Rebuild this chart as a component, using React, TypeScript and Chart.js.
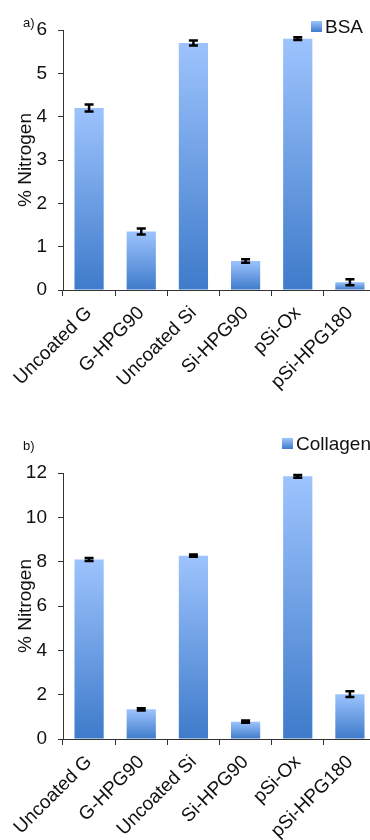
import React, { useEffect, useRef } from "react";
import { Chart, registerables } from "chart.js";

Chart.register(...registerables);

const categories = ["Uncoated G", "G-HPG90", "Uncoated Si", "Si-HPG90", "pSi-Ox", "pSi-HPG180"];
const bsaValues = [4.2, 1.35, 5.7, 0.67, 5.8, 0.18];
const bsaErrors = [0.08, 0.07, 0.06, 0.04, 0.03, 0.07];
const collagenValues = [8.1, 1.34, 8.27, 0.78, 11.85, 2.02];
const collagenErrors = [0.07, 0.05, 0.05, 0.05, 0.06, 0.13];
const yTitle = "% Nitrogen";

const FONT = "'Liberation Sans', Arial, Helvetica, sans-serif";
const LIGHT = "#9DC3FD";
const DARK = "#3E7BCA";

const errorBarPlugin = {
  id: "errorBars",
  afterDatasetsDraw(chart: any, _args: any, opts: any) {
    const errs: number[] = opts.errors || [];
    const meta = chart.getDatasetMeta(0);
    const ys = chart.scales.y;
    const ctx = chart.ctx;
    ctx.save();
    ctx.strokeStyle = "#000";
    ctx.lineWidth = 2.5;
    meta.data.forEach((bar: any, i: number) => {
      const v = chart.data.datasets[0].data[i] as number;
      const e = errs[i] || 0;
      const x = bar.x;
      const yt = ys.getPixelForValue(v + e);
      const yb = ys.getPixelForValue(v - e);
      ctx.beginPath();
      ctx.moveTo(x, yt);
      ctx.lineTo(x, yb);
      ctx.moveTo(x - 4.5, yt);
      ctx.lineTo(x + 4.5, yt);
      ctx.moveTo(x - 4.5, yb);
      ctx.lineTo(x + 4.5, yb);
      ctx.stroke();
    });
    ctx.restore();
  },
};

const decorPlugin = {
  id: "decor",
  afterDraw(chart: any, _args: any, opts: any) {
    const ctx = chart.ctx;
    ctx.save();
    ctx.fillStyle = "#111";
    ctx.font = `13px ${FONT}`;
    ctx.textBaseline = "alphabetic";
    ctx.textAlign = "left";
    ctx.fillText(opts.panel, opts.panelX, opts.panelY);
    const bx = opts.legendX;
    const by = opts.legendY;
    const g = ctx.createLinearGradient(0, by, 0, by + 11);
    g.addColorStop(0, LIGHT);
    g.addColorStop(1, DARK);
    ctx.fillStyle = g;
    ctx.fillRect(bx, by, 11, 11);
    ctx.fillStyle = "#111";
    ctx.font = `19px ${FONT}`;
    ctx.fillText(chart.data.datasets[0].label, bx + 14, by + 12);
    ctx.restore();
  },
};

function makeConfig(p: {
  values: number[];
  errors: number[];
  label: string;
  panel: string;
  max: number;
  step: number;
  padTop: number;
  xHeight: number;
  legendX: number;
  legendY: number;
  panelY: number;
}): any {
  return {
    type: "bar",
    data: {
      labels: categories,
      datasets: [
        {
          label: p.label,
          data: p.values,
          barPercentage: 0.56,
          categoryPercentage: 1,
          backgroundColor: (c: any) => {
            const chart = c.chart;
            if (!chart.chartArea || c.type !== "data") return "#6C9EE8";
            const ys = chart.scales.y;
            const top = ys.getPixelForValue(c.raw as number);
            const bottom = ys.getPixelForValue(0);
            const g = chart.ctx.createLinearGradient(0, top, 0, bottom);
            g.addColorStop(0, LIGHT);
            g.addColorStop(1, DARK);
            return g;
          },
        },
      ],
    },
    options: {
      responsive: false,
      animation: false,
      devicePixelRatio: 1,
      layout: { padding: { top: p.padTop, left: 0, right: 4, bottom: 0 } },
      plugins: {
        legend: { display: false },
        tooltip: { enabled: false },
        errorBars: { errors: p.errors },
        decor: { panel: p.panel, panelX: 23, panelY: p.panelY, legendX: p.legendX, legendY: p.legendY },
      },
      scales: {
        x: {
          afterFit: (s: any) => {
            s.height = p.xHeight;
          },
          border: { color: "#333", width: 1 },
          grid: { display: true, drawOnChartArea: false, tickLength: 6, color: "#333", offset: true },
          ticks: {
            autoSkip: false,
            maxRotation: 45,
            minRotation: 45,
            color: "#111",
            padding: 6,
            font: { family: FONT, size: 19 },
          },
        },
        y: {
          min: 0,
          max: p.max,
          afterFit: (s: any) => {
            s.width = 63;
          },
          border: { color: "#333", width: 1 },
          grid: { display: true, drawOnChartArea: false, tickLength: 5, color: "#333" },
          ticks: {
            stepSize: p.step,
            color: "#111",
            padding: 11,
            font: { family: FONT, size: 19 },
          },
          title: {
            display: true,
            text: yTitle,
            color: "#111",
            padding: { top: 14, bottom: 0 },
            font: { family: FONT, size: 19 },
          },
        },
      },
    },
    plugins: [errorBarPlugin, decorPlugin],
  };
}

function BarPanel(props: { cfg: any }) {
  const ref = useRef<HTMLCanvasElement | null>(null);
  useEffect(() => {
    if (!ref.current) return;
    const chart = new Chart(ref.current, props.cfg);
    return () => chart.destroy();
  }, []);
  return <canvas ref={ref} width={380} height={420} style={{ display: "block", width: 380, height: 420 }} />;
}

export default function App() {
  const cfgA = makeConfig({
    values: bsaValues,
    errors: bsaErrors,
    label: "BSA",
    panel: "a)",
    max: 6,
    step: 1,
    padTop: 30,
    xHeight: 130,
    legendX: 311,
    legendY: 21,
    panelY: 27,
  });
  const cfgB = makeConfig({
    values: collagenValues,
    errors: collagenErrors,
    label: "Collagen",
    panel: "b)",
    max: 12,
    step: 2,
    padTop: 53,
    xHeight: 101,
    legendX: 282,
    legendY: 18,
    panelY: 30,
  });
  return (
    <div
      style={{
        position: "fixed",
        left: 0,
        top: 0,
        width: 370,
        height: 840,
        overflow: "hidden",
        background: "#fff",
      }}
    >
      <BarPanel cfg={cfgA} />
      <BarPanel cfg={cfgB} />
    </div>
  );
}
